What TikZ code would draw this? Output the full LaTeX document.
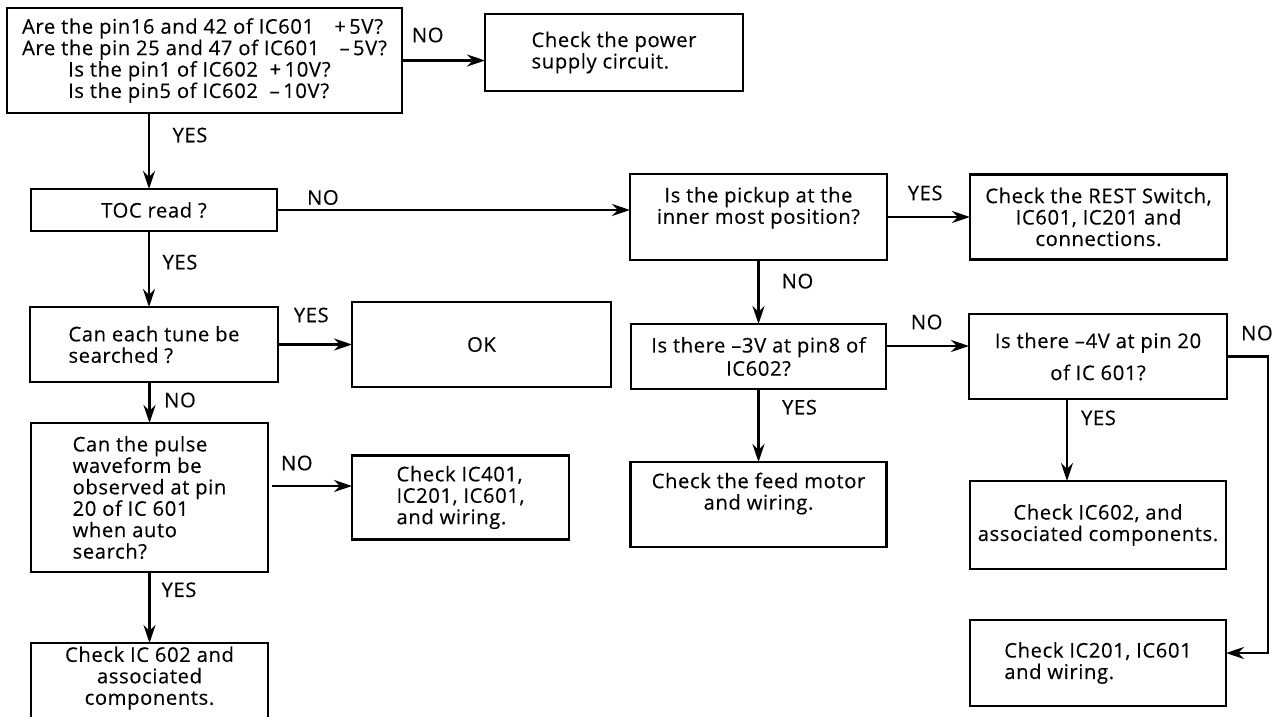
\documentclass[tikz,border=0pt]{standalone}
\usepackage{fontspec}
\setmainfont{Open Sans}[FakeBold=0.3, LetterSpace=3]
\usepackage{tikz}
\usetikzlibrary{arrows.meta,positioning}
\tikzset{
  flowbox/.style={draw, line width=1.5pt, outer sep=0pt, align=center, inner sep=2pt, font=\fontsize{11.5}{12.2}\selectfont},
  flowarrow/.style={-{Stealth[length=0.36cm,width=0.24cm]}, line width=1.6pt},
  flowlabel/.style={font=\fontsize{11.5}{12.2}\selectfont, inner sep=1pt}
}
\begin{document}
\begin{tikzpicture}[node distance=1.5cm and 1.66cm]
  \useasboundingbox (0,0) rectangle (25.62,-14.34);
  \clip (0,0) rectangle (25.62,-14.34);

  \node[flowbox, minimum width=7.9cm, minimum height=2.1cm, anchor=north west, align=left] (volt) at (0.14,-0.16)
    {Are the pin16 and 42 of IC601\quad+\,5V?\\
     Are the pin 25 and 47 of IC601\quad–\,5V?\\
     \hspace*{0.92cm}Is the pin1 of IC602\ \ +\,10V?\\
     \hspace*{0.92cm}Is the pin5 of IC602\ \ –\,10V?};
  \node[flowbox, minimum width=5.16cm, minimum height=1.54cm, align=left, right=1.66cm of volt, yshift=0.16cm] (power) {Check the power\\supply circuit.};
  \node[flowbox, minimum width=4.92cm, minimum height=0.84cm, below=1.52cm of volt.south west, anchor=north west, xshift=0.48cm] (toc) {TOC read ?};
  \node[flowbox, minimum width=5.14cm, minimum height=1.72cm, right=7.06cm of toc, yshift=-0.14cm] (pickup) {Is the pickup at the\\inner most position?\\[1pt]\mbox{}};
  \node[flowbox, minimum width=5.14cm, minimum height=1.7cm, right=1.66cm of pickup] (rest) {Check the REST Switch,\\IC601, IC201 and\\connections.};

  \node[flowbox, minimum width=4.96cm, minimum height=1.5cm, align=left, below=1.52cm of toc] (tune) {Can each tune be\\searched ?};
  \node[flowbox, minimum width=5.18cm, minimum height=1.7cm, right=1.48cm of tune] (ok) {OK};
  \node[flowbox, minimum width=4.74cm, minimum height=2.98cm, align=left, below=0.82cm of tune, xshift=-0.09cm] (pulse) {Can the pulse\\waveform be\\observed at pin\\20 of IC 601\\when auto\\search?};
  \node[flowbox, minimum width=4.34cm, minimum height=1.68cm, align=left, right=1.68cm of pulse] (icfour) {Check IC401,\\IC201, IC601,\\and wiring.};
  \node[flowbox, minimum width=4.74cm, minimum height=1.9cm, below=1.42cm of pulse] (icsix) {Check IC 602 and\\associated\\components.\\[5pt]\mbox{}};

  \node[flowbox, minimum width=5.1cm, minimum height=1.3cm, below=1.28cm of pickup] (mthree) {Is there –3V at pin8 of\\[1pt]IC602?};
  \node[flowbox, minimum width=5.16cm, minimum height=1.7cm, right=1.66cm of mthree] (mfour) {Is there –4V at pin 20\\[6pt]of IC 601?};
  \node[flowbox, minimum width=5.12cm, minimum height=1.7cm, below=1.46cm of mthree] (feed) {Check the feed motor\\and wiring.\\[3pt]\mbox{}};
  \node[flowbox, minimum width=5.12cm, minimum height=1.76cm, below=1.64cm of mfour] (assoc) {Check IC602, and\\associated components.};
  \node[flowbox, minimum width=5.12cm, minimum height=1.72cm, align=left, below=1.02cm of assoc] (ictwo) {Check IC201, IC601\\and wiring.};

  % left column
  \draw[flowarrow] (volt) -- node[flowlabel, pos=0.31, yshift=0.51cm] (n1) {NO} (volt -| power.west);
  \draw[flowarrow] ([xshift=-0.1cm]toc.north |- volt.south) -- node[flowlabel, pos=0.29, xshift=0.82cm] (y1) {YES} ([xshift=-0.1cm]toc.north);
  \draw[flowarrow] ([xshift=-0.1cm]toc.south) -- node[flowlabel, pos=0.41, xshift=0.62cm] (y2) {YES} ([xshift=-0.1cm]toc.south |- tune.north);
  \draw[flowarrow] (toc) -- node[flowlabel, pos=0.13, yshift=0.25cm] (n2) {NO} (toc -| pickup.west);
  \draw[flowarrow] (tune) -- node[flowlabel, pos=0.45, yshift=0.59cm] (y3) {YES} (tune -| ok.west);
  \draw[flowarrow] (tune.south -| pulse.north) -- node[flowlabel, pos=0.44, xshift=0.61cm] (n3) {NO} (pulse.north);
  \draw[flowarrow] ([xshift=0.08cm, yshift=0.23cm]pulse.east) -- node[flowlabel, pos=0.31, yshift=0.46cm] (n4) {NO} ([yshift=0.23cm]icfour.west);
  \draw[flowarrow] (pulse) -- node[flowlabel, pos=0.25, xshift=0.59cm] (y4) {YES} (icsix);

  % right part
  \draw[flowarrow] (pickup) -- node[flowlabel, pos=0.46, yshift=0.48cm] (y5) {YES} (pickup -| rest.west);
  \draw[flowarrow] (pickup) -- node[flowlabel, pos=0.33, xshift=0.78cm] (n5) {NO} (mthree);
  \draw[flowarrow] ([yshift=0.21cm]mthree.east) -- node[flowlabel, pos=0.49, yshift=0.48cm] (n6) {NO} ([yshift=0.21cm]mfour.west);
  \draw[flowarrow] (mthree) -- node[flowlabel, pos=0.25, xshift=0.82cm] (y6) {YES} (feed);
  \draw[flowarrow] ([xshift=-0.62cm]mfour.south) -- node[flowlabel, pos=0.23, xshift=0.63cm] (y7) {YES} ([xshift=-0.62cm]assoc.north);
  \draw[flowarrow] (mfour.east) -- node[flowlabel, pos=0.73, yshift=0.47cm] (n7) {NO} ++(0.82,0) |- ([yshift=0.2cm]ictwo.east);
\end{tikzpicture}
\end{document}
